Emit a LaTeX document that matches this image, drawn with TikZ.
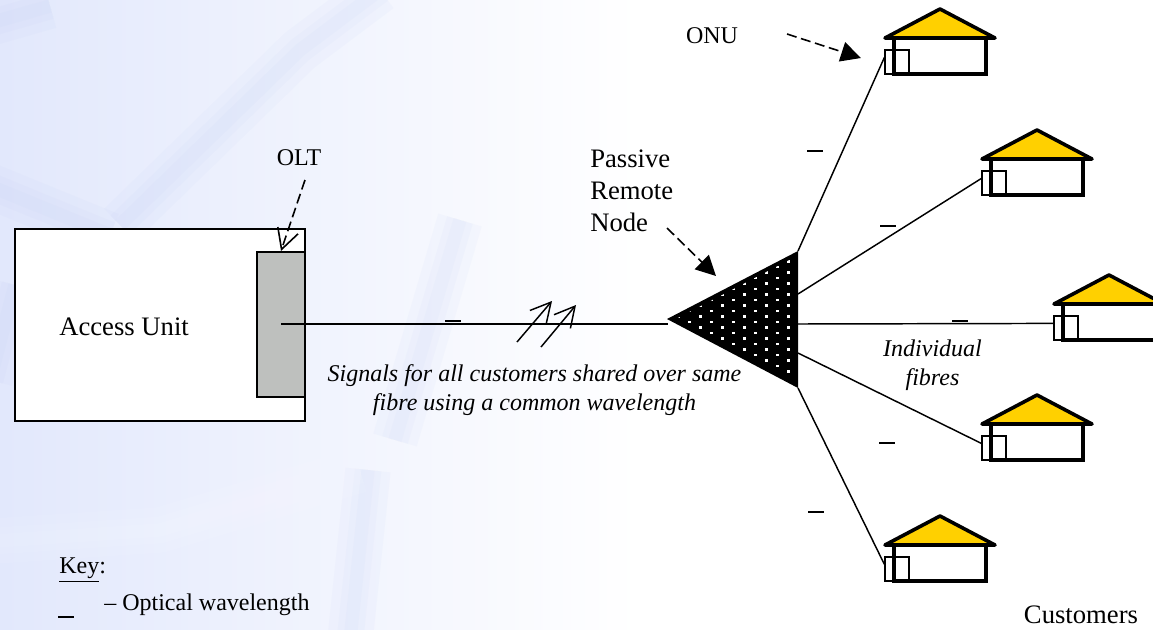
\documentclass[tikz,border=0pt]{standalone}
\usepackage{fontspec}
\setmainfont{Liberation Serif}
\usetikzlibrary{
  arrows.meta,
  calc,
  positioning
}
\definecolor{bgblue}{RGB}{226,232,252}
\definecolor{streakblue}{RGB}{185,200,245}
\definecolor{roofyellow}{RGB}{255,208,0}
\definecolor{oltgrey}{RGB}{190,192,190}
\tikzset{
  bigtext/.style = {inner sep = 0pt, font = \fontsize{20}{24}\selectfont},
  smalltext/.style = {inner sep = 0pt, font = \fontsize{18}{24}\selectfont},
  notetext/.style = {inner sep = 0pt, align = center, font = \fontsize{18}{21.5}\selectfont\itshape},
  fibre/.style = {line width = 1.1pt},
  wave/.style = {inner sep = 0pt},
  pointer/.style = {line width = 1.2pt, dash pattern = on 7.5pt off 3.5pt},
  barbed/.style = {-{Straight Barb[length = 15pt, width = 16pt]}},
  solidhead/.style = {-{Triangle[length = 15pt, width = 15pt]}},
  streak/.style = {line join = round, opacity = .07},
  house/.pic = {
    \draw[line width = 2.7pt, fill = roofyellow, line join = round] (-55,29) -- (0,0) -- (55,29) -- cycle;
    \draw[line width = 2.7pt] (-46,29) -- (-46,65) -- (46,65) -- (46,29);
    \node[draw, line width = .9pt, minimum size = 18pt, inner sep = 0pt] (-onu) at (-43,53) {};
  }
}
\newcommand{\wavemark}{\rule{12pt}{.9pt}}

\begin{document}
\begin{tikzpicture}[x = .75pt, y = -.75pt]
    \useasboundingbox (0,0) rectangle (1153,629);
    % background
    \begin{scope}
      \clip (0,0) rectangle (1153,629);
      \shade[left color = bgblue, right color = white] (0,0) rectangle (640,629);
      \foreach \w in {10pt,20pt,34pt} {
        \draw[streak, streakblue, line width = \w] (-20,182) -- (110,235);
        \draw[streak, streakblue, line width = \w] (120,225) -- (300,50) -- (380,-10);
        \draw[streak, streakblue, line width = \w] (-10,380) -- (15,285);
        \draw[streak, streakblue, line width = \w] (-20,26) -- (50,6);
        \draw[streak, streakblue, line width = \w] (350,640) -- (368,470);
        \draw[streak, streakblue, line width = \w] (395,440) -- (460,220);
        \draw[streak, white, line width = \w] (-20,542) -- (160,530) -- (360,470);
      }
    \end{scope}

    % access unit
    \node[draw, fill = white, line width = 1.5pt, minimum width = 217.5pt, minimum height = 144pt, inner sep = 0pt] (access) at (160,324.5) {};
    \node[draw, fill = oltgrey, line width = 1.3pt, minimum width = 36pt, minimum height = 109pt, inner sep = 0pt] (olt) at (281,324.5) {};
    \node[bigtext, anchor = west] (accesstext) at (59,327) {Access Unit};
    \node[smalltext] (olttext) at (299,158) {OLT};
    \coordinate (oltstart) at (305,180);
    \draw[pointer, barbed] (oltstart) -- (olt.north);

    % passive remote node
    \coordinate (rntip) at (667,319);
    \coordinate (rntop) at (798,251);
    \coordinate (rnbot) at (798,388);
    \fill[black] (rntip) -- (rntop) -- (rnbot) -- cycle;
    \begin{scope}
      \clip (676,319) -- (795,257) -- (795,382) -- cycle;
      \foreach \col in {0,...,10}
        \foreach \row in {0,...,10}
          \fill[white] ({788.3-11*\col-1.2},{261.3+11*\row+5.5*mod(\col,2)-1.2}) rectangle +(2.4,2.4);
    \end{scope}
    \node[bigtext, anchor = north west, align = left] (rntext) at (590,150) {Passive\\Remote\\Node};
    \coordinate (rnstart) at (667,228);
    \coordinate (rnhead) at (716,276);
    \draw[pointer, solidhead] (rnstart) -- (rnhead);

    % customers
    \pic (h1) at (940,9) {house};
    \pic (h2) at (1037,130) {house};
    \pic (h3) at (1109,275) {house};
    \pic (h4) at (1037,395) {house};
    \pic (h5) at (940,516) {house};
    \node[smalltext] (onutext) at (712,36) {ONU};
    \coordinate (onustart) at (787,34);
    \coordinate (onuhead) at (861,58);
    \draw[pointer, solidhead] (onustart) -- (onuhead);

    % fibres
    \coordinate (feed) at (281,324);
    \coordinate (feedend) at (668,324);
    \coordinate (rnmid) at (798,324);
    \coordinate (rnupper) at (798,294);
    \coordinate (rnlower) at (798,353);
    \draw[fibre] (feed) -- (feedend);
    \draw[fibre] (rntop) -- (h1-onu.160);
    \draw[fibre] (rnupper) -- (h2-onu.160);
    \draw[fibre] (rnmid) -- (h3-onu.160);
    \draw[fibre] (rnlower) -- (h4-onu.160);
    \draw[fibre] (rnbot) -- (h5-onu.160);

    % arrows across the shared fibre
    \coordinate (a1) at (517,342);
    \coordinate (a2) at (552,301);
    \coordinate (b1) at (541,347);
    \coordinate (b2) at (576,305);
    \draw[fibre, barbed] (a1) -- (a2);
    \draw[fibre, barbed] (b1) -- (b2);

    % wavelength marks
    \node[wave] (w0) at (453,321) {\wavemark};
    \node[wave] (w1) at (815,151) {\wavemark};
    \node[wave] (w2) at (888,226) {\wavemark};
    \node[wave] (w3) at (960,321) {\wavemark};
    \node[wave] (w4) at (887,443) {\wavemark};
    \node[wave] (w5) at (816,512) {\wavemark};

    % captions
    \node[notetext] (shared) at (534.5,390) {Signals for all customers shared over same\\fibre using a common wavelength};
    \node[notetext] (indiv) at (932.5,365.5) {Individual\\fibres};
    \node[bigtext] (custtext) at (1081,615) {Customers};

    % key
    \node[smalltext, anchor = west] (keytext) at (59,570) {\underline{Key}:};
    \node[wave] (keymark) at (66,617) {\wavemark};
    \node[smalltext, anchor = west] (keyline) at (104,605) {-- Optical wavelength};
  \end{tikzpicture}
\end{document}
